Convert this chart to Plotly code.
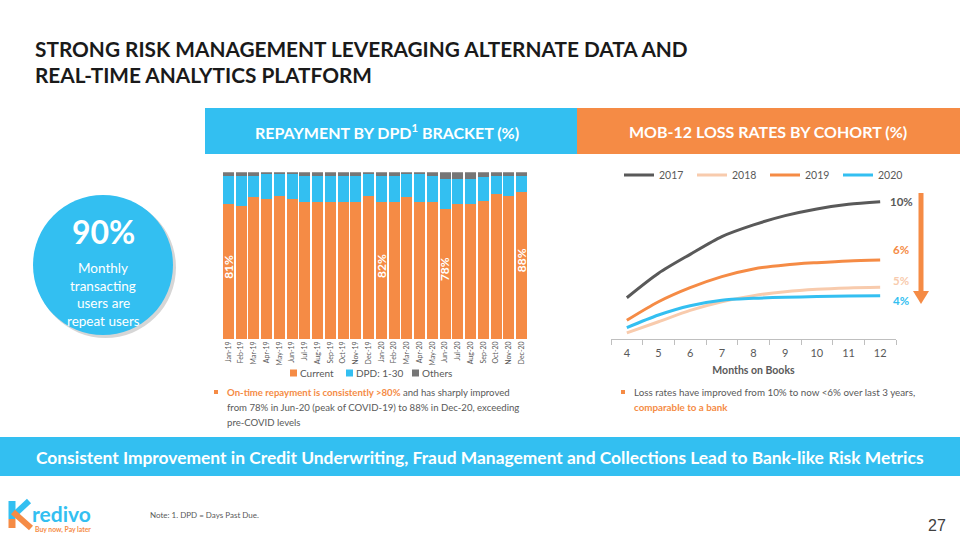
import plotly.graph_objects as go

# ---------------- data ----------------
months = ["Jan-19", "Feb-19", "Mar-19", "Apr-19", "May-19", "Jun-19", "Jul-19", "Aug-19",
          "Sep-19", "Oct-19", "Nov-19", "Dec-19", "Jan-20", "Feb-20", "Mar-20", "Apr-20",
          "May-20", "Jun-20", "Jul-20", "Aug-20", "Sep-20", "Oct-20", "Nov-20", "Dec-20"]
current = [81, 80, 85, 84, 86, 84, 82, 82, 82, 82, 82, 86,
           82, 82, 85, 82, 82, 78, 81, 81, 83, 87, 86, 88]
others = [2, 2, 2, 1, 1, 1, 2, 2, 2, 2, 2, 1,
          2, 2, 1, 1, 2, 4, 4, 4, 3, 2, 2, 2]
dpd = [100 - c - o for c, o in zip(current, others)]
bar_series = ["Current", "DPD: 1-30", "Others"]
bar_callouts = ["Jan-19", "Jan-20", "Jun-20", "Dec-20"]

mob = ["4", "5", "6", "7", "8", "9", "10", "11", "12"]
loss_2017 = [3.85, 5.38, 6.56, 7.67, 8.40, 8.98, 9.40, 9.69, 9.85]
loss_2018 = [1.65, 2.35, 3.06, 3.60, 3.98, 4.23, 4.38, 4.46, 4.50]
loss_2019 = [2.44, 3.60, 4.48, 5.17, 5.65, 5.90, 6.04, 6.15, 6.21]
loss_2020 = [1.98, 2.77, 3.35, 3.69, 3.81, 3.88, 3.92, 3.96, 3.98]
cohorts = ["2017", "2018", "2019", "2020"]
end_labels = ["10%", "5%", "6%", "4%"]

# ---------------- style ----------------
FONT = "Lato"
ORANGE = "#F58B45"
BLUE = "#33BFF1"
DARKGRAY = "#595959"
PEACH = "#F8CBAD"
OTHERS_GRAY = "#767676"
TXT = "#595959"
W, H = 960, 540


def X(px):
    return px / W


def Y(py):
    return 1 - py / H


fig = go.Figure()

# stacked bars
bar_colors = [ORANGE, BLUE, OTHERS_GRAY]
for name, vals, col in zip(bar_series, [current, dpd, others], bar_colors):
    fig.add_trace(go.Bar(x=months, y=vals, name=name, marker_color=col,
                         marker_line_width=0, showlegend=False))

# cohort lines
line_colors = [DARKGRAY, PEACH, ORANGE, BLUE]
series = [loss_2017, loss_2018, loss_2019, loss_2020]
for name, vals, col in zip(cohorts, series, line_colors):
    fig.add_trace(go.Scatter(x=mob, y=vals, mode="lines", name=name,
                             line=dict(color=col, width=3, shape="spline", smoothing=0.8),
                             xaxis="x2", yaxis="y2", legend="legend2"))

shapes = []
annotations = []


def rect(x0, y0, x1, y1, color):
    shapes.append(dict(type="rect", xref="paper", yref="paper", x0=X(x0), x1=X(x1),
                       y0=Y(y1), y1=Y(y0), fillcolor=color, line_width=0, layer="below"))


def text(x, y, t, size, color, bold=False, xanchor="center", family=FONT, angle=0):
    annotations.append(dict(xref="paper", yref="paper", x=X(x), y=Y(y),
                            text=("<b>%s</b>" % t) if bold else t, showarrow=False,
                            xanchor=xanchor, yanchor="middle", textangle=angle,
                            font=dict(family=family, size=size, color=color)))


# header bands
rect(205, 108, 577, 154, BLUE)
rect(577, 108, 960, 154, ORANGE)
text(387, 131, "REPAYMENT BY DPD<sup>1</sup> BRACKET (%)", 16, "white", bold=True)
text(768, 131, "MOB-12 LOSS RATES BY COHORT (%)", 16, "white", bold=True)

# title
text(33, 48, "STRONG RISK MANAGEMENT LEVERAGING ALTERNATE DATA AND", 20.8, "#1A1A1A",
     bold=True, xanchor="left")
text(33, 75, "REAL-TIME ANALYTICS PLATFORM", 20.8, "#1A1A1A", bold=True, xanchor="left")

# circle callout
shapes.append(dict(type="circle", xref="paper", yref="paper", x0=X(35), x1=X(176),
                   y0=Y(338), y1=Y(197), fillcolor="rgba(0,0,0,0.16)", line_width=0,
                   layer="below"))
shapes.append(dict(type="circle", xref="paper", yref="paper", x0=X(33), x1=X(173),
                   y0=Y(335), y1=Y(195), fillcolor=BLUE, line_width=0, layer="below"))
text(103, 232, "90%", 32, "white", bold=True)
for i, t in enumerate(["Monthly", "transacting", "users are", "repeat users"]):
    text(103, 268 + 17.7 * i, t, 13.5, "white")

# bar chart legend (series names + colour keys)
legend_x = [290, 346, 412]
for lx, name, col in zip(legend_x, bar_series, bar_colors):
    rect(lx, 369.5, lx + 7, 376.5, col)
    text(lx + 8, 373, name, 10, TXT, xanchor="left")

# bottom banner
rect(0, 437, 960, 476, BLUE)
text(480, 457, "Consistent Improvement in Credit Underwriting, Fraud Management and "
     "Collections Lead to Bank-like Risk Metrics", 17.4, "white", bold=True)

# bullets (small square markers)
rect(214, 390, 218, 394, ORANGE)
text(225, 392, "<b><span style='color:%s'>On-time repayment is consistently &gt;80%%</span></b>"
     " and has sharply improved" % ORANGE, 9.6, TXT, xanchor="left")
text(225, 407, "from 78% in Jun-20 (peak of COVID-19) to 88% in Dec-20, exceeding", 9.6, TXT,
     xanchor="left")
text(225, 422, "pre-COVID levels", 9.6, TXT, xanchor="left")
rect(621, 390, 625, 394, ORANGE)
text(632, 392, "Loss rates have improved from 10% to now &lt;6% over last 3 years,", 9.8, TXT,
     xanchor="left")
text(632, 407, "<b>comparable to a bank</b>", 9.8, ORANGE, xanchor="left")

# note + page number
text(148, 515, "Note: 1. DPD = Days Past Due.", 8, TXT, xanchor="left")
text(948, 525, "27", 16, "#404040", xanchor="right", family="Liberation Sans")

# logo
shapes.append(dict(type="line", xref="paper", yref="paper", x0=X(12), x1=X(12),
                   y0=Y(501), y1=Y(519), line=dict(color=BLUE, width=7)))
shapes.append(dict(type="line", xref="paper", yref="paper", x0=X(14), x1=X(29),
                   y0=Y(515), y1=Y(501), line=dict(color=BLUE, width=6)))
shapes.append(dict(type="line", xref="paper", yref="paper", x0=X(12), x1=X(12),
                   y0=Y(519), y1=Y(528), line=dict(color=ORANGE, width=7)))
shapes.append(dict(type="line", xref="paper", yref="paper", x0=X(13), x1=X(31),
                   y0=Y(512), y1=Y(528), line=dict(color=ORANGE, width=6)))
text(30, 513, "redivo", 21, BLUE, bold=True, xanchor="left")
text(33, 529, "Buy now, Pay later", 6.8, ORANGE, bold=True, xanchor="left")

# down arrow
shapes.append(dict(type="line", xref="paper", yref="paper", x0=X(921), x1=X(921),
                   y0=Y(193), y1=Y(293), line=dict(color=ORANGE, width=5)))
shapes.append(dict(type="path", xref="paper", yref="paper",
                   path="M %f %f L %f %f L %f %f Z" % (X(913), Y(291), X(929), Y(291),
                                                       X(921), Y(304)),
                   fillcolor=ORANGE, line_width=0))

# bar callout labels (data-referenced)
for m in bar_callouts:
    i = months.index(m)
    annotations.append(dict(xref="x", yref="y", x=i, y=current[i] / 2 + 3,
                            text="<b>%d%%</b>" % current[i], showarrow=False,
                            textangle=-90, font=dict(family=FONT, size=12, color="white")))

# line end labels (data-referenced)
label_shift = [0, 7, 10, -5]
last = len(mob) - 1
for name, vals, col, lab, ys in zip(cohorts, series, line_colors, end_labels, label_shift):
    annotations.append(dict(xref="x2", yref="y2", x=last, y=vals[-1], text="<b>%s</b>" % lab,
                            showarrow=False, xanchor="center", xshift=21, yshift=ys,
                            font=dict(family=FONT, size=11.5, color=col)))

fig.update_layout(
    width=W, height=H, autosize=False,
    margin=dict(l=0, r=0, t=0, b=0),
    paper_bgcolor="white", plot_bgcolor="rgba(0,0,0,0)",
    font=dict(family=FONT, color=TXT),
    barmode="stack", bargap=0.12,
    showlegend=True,
    xaxis=dict(domain=[X(222), X(528)], anchor="y", type="category", tickangle=-90,
               range=[-0.5, len(months) - 0.5],
               tickfont=dict(size=7, color=TXT), showline=False, ticks="", showgrid=False,
               zeroline=False),
    yaxis=dict(domain=[Y(339), Y(172.3)], range=[0, 100], visible=False),
    xaxis2=dict(domain=[X(611), X(896)], anchor="y2", type="category",
                range=[-0.5, len(mob) - 0.5], tickangle=0,
                tickson="boundaries", ticks="outside", ticklen=5, tickcolor="#BFBFBF",
                ticklabelstandoff=4,
                showline=True, linecolor="#BFBFBF", linewidth=1, showgrid=False,
                tickfont=dict(size=11, color=TXT),
                title=dict(text="<b>Months on Books</b>", font=dict(size=10.5, color=TXT),
                           standoff=8)),
    yaxis2=dict(domain=[Y(339), Y(187)], range=[1.27, 10.77], visible=False),
    legend2=dict(orientation="h", x=X(619), y=Y(175), xanchor="left", yanchor="middle",
                 traceorder="normal", entrywidth=28, entrywidthmode="pixels",
                 font=dict(size=10.5, color=TXT), bgcolor="rgba(0,0,0,0)",
                 itemclick=False, itemdoubleclick=False),
    shapes=shapes,
    annotations=annotations,
)

fig.write_html("out.html", config={"displayModeBar": False},
               post_script="document.body.style.margin='0';")
